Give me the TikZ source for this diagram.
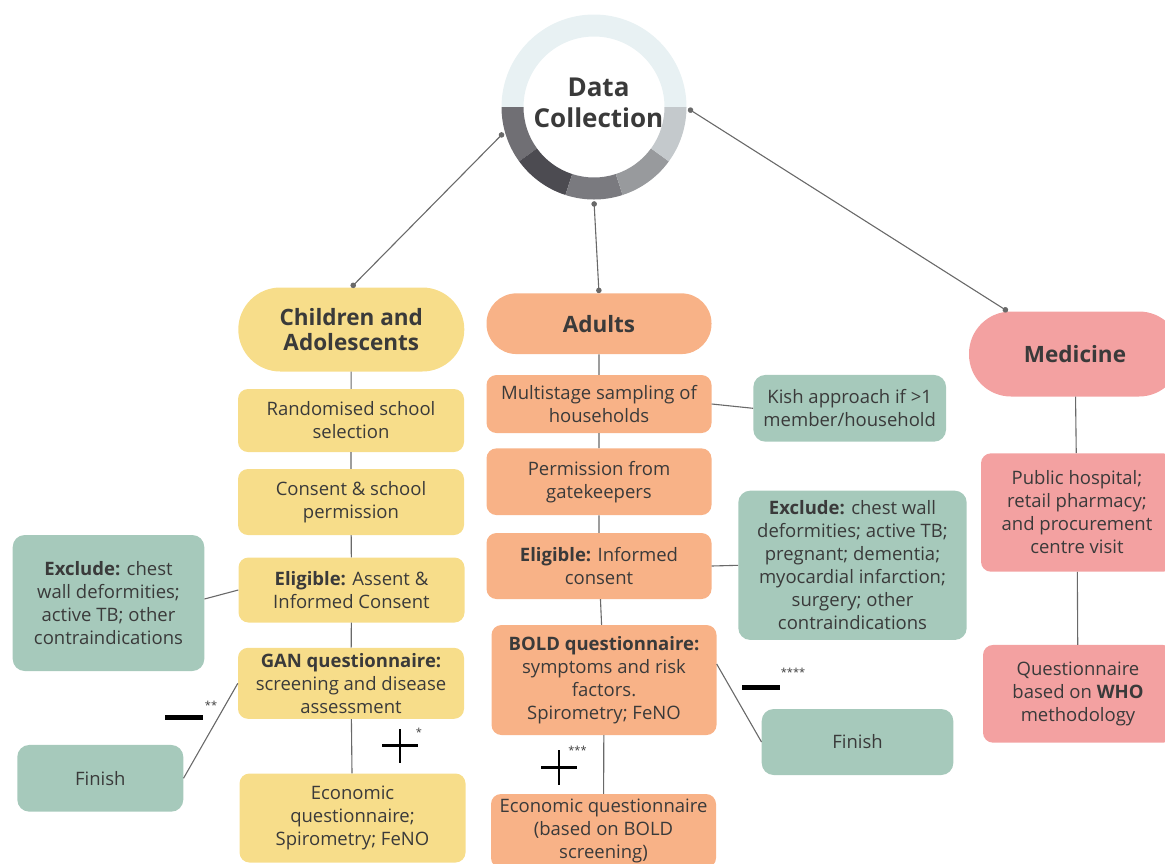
\documentclass[tikz,border=0pt]{standalone}
\usepackage{fontspec}
\setmainfont{Open Sans}
\usetikzlibrary{arrows.meta,calc}

\definecolor{kidyellow}{RGB}{247,221,138}
\definecolor{adultorange}{RGB}{248,178,135}
\definecolor{medpink}{RGB}{243,161,161}
\definecolor{notegreen}{RGB}{166,201,187}
\definecolor{inkgray}{RGB}{58,58,58}
\definecolor{linegray}{RGB}{105,105,105}
\definecolor{ringtop}{RGB}{232,241,243}
\definecolor{ringa}{RGB}{112,111,116}
\definecolor{ringb}{RGB}{76,75,81}
\definecolor{ringc}{RGB}{122,122,127}
\definecolor{ringd}{RGB}{152,154,157}
\definecolor{ringe}{RGB}{196,201,204}

\tikzset{
  plainbox/.style={rounded corners=10pt, align=center, text=inkgray, inner sep=0pt,
    font=\fontsize{18.5}{23}\selectfont},
  kidbox/.style={plainbox, fill=kidyellow, minimum width=226pt},
  adultbox/.style={plainbox, fill=adultorange, minimum width=225pt},
  medbox/.style={plainbox, fill=medpink, minimum width=192pt},
  notebox/.style={plainbox, fill=notegreen, rounded corners=12pt},
  headbox/.style={font=\fontsize{22.5}{25.5}\selectfont\bfseries},
  joinline/.style={draw=linegray, line width=1.1pt},
  dotline/.style={joinline, {Circle[length=5.5pt]}-{Circle[length=5.5pt]}},
  starmark/.style={font=\fontsize{11}{11}\selectfont, text=inkgray, inner sep=0pt},
}

\begin{document}
\begin{tikzpicture}[x=1pt,y=1pt,yscale=-1,xscale=1]
\useasboundingbox (0,0) rectangle (1165,863);

%Shape: ring round the title
\begin{scope}[shift={(594,107)}]
\fill[ringtop] (180:92.5) arc[start angle=180, end angle=360, radius=92.5] -- (0:70.5) arc[start angle=360, end angle=180, radius=70.5] -- cycle;
\fill[ringa] (180:92.5) arc[start angle=180, end angle=144, radius=92.5] -- (144:70.5) arc[start angle=144, end angle=180, radius=70.5] -- cycle;
\fill[ringb] (144:92.5) arc[start angle=144, end angle=108, radius=92.5] -- (108:70.5) arc[start angle=108, end angle=144, radius=70.5] -- cycle;
\fill[ringc] (108:92.5) arc[start angle=108, end angle=72, radius=92.5] -- (72:70.5) arc[start angle=72, end angle=108, radius=70.5] -- cycle;
\fill[ringd] (72:92.5) arc[start angle=72, end angle=36, radius=92.5] -- (36:70.5) arc[start angle=36, end angle=72, radius=70.5] -- cycle;
\fill[ringe] (36:92.5) arc[start angle=36, end angle=0, radius=92.5] -- (0:70.5) arc[start angle=0, end angle=36, radius=70.5] -- cycle;
\end{scope}
\node[circle, minimum size=188pt, inner sep=0pt] (dc) at (594,107) {};
\node[align=center, text=inkgray, inner sep=0pt, font=\fontsize{26}{30.7}\selectfont\bfseries] (dctext) at (598.5,103) {Data\\Collection};

% Children and adolescents
\node[kidbox, headbox, minimum height=84pt, rounded corners=42pt] (kids) at (351.3,329.5) {Children and\\Adolescents};
\node[kidbox, minimum height=63pt] (krand) at (351,420.5) {Randomised school\\selection};
\node[kidbox, minimum height=66pt] (kconsent) at (351,502) {Consent \& school\\permission};
\node[kidbox, minimum height=65pt] (kelig) at (351.5,590) {\textbf{Eligible:} Assent \&\\Informed Consent};
\node[kidbox, minimum height=71pt] (kgan) at (351,683.3) {\textbf{GAN questionnaire:}\\screening and disease\\assessment};
\node[kidbox, minimum height=89pt] (kecon) at (352.5,818) {Economic\\questionnaire;\\Spirometry; FeNO};
\node[notebox, minimum width=191.6pt, minimum height=136pt] (kexcl) at (108.5,603) {\textbf{Exclude:} chest\\wall deformities;\\active TB; other\\contraindications};
\node[notebox, minimum width=166pt, minimum height=66.7pt] (kfinish) at (100.3,778.3) {Finish};

% Adults
\node[adultbox, headbox, minimum height=60.7pt, rounded corners=30pt] (adults) at (599,323.7) {Adults};
\node[adultbox, minimum height=58pt] (amulti) at (599,404) {Multistage sampling of\\households};
\node[adultbox, minimum height=66.7pt] (aperm) at (599,481.7) {Permission from\\gatekeepers};
\node[adultbox, minimum height=66pt] (aelig) at (599,566) {\textbf{Eligible:} Informed\\consent};
\node[adultbox, minimum height=110pt] (abold) at (604,680) {\textbf{BOLD questionnaire:}\\symptoms and risk\\factors.\\Spirometry; FeNO};
\node[adultbox, minimum height=74pt] (aecon) at (603.5,831) {Economic questionnaire\\(based on BOLD\\screening)};
\node[notebox, minimum width=192.7pt, minimum height=66.7pt] (kish) at (849.7,408.3) {Kish approach if >1\\member/household};
\node[notebox, minimum width=228.4pt, minimum height=149.3pt] (aexcl) at (852.5,565.3) {\textbf{Exclude:} chest wall\\deformities; active TB;\\pregnant; dementia;\\myocardial infarction;\\surgery; other\\contraindications};
\node[notebox, minimum width=191.6pt, minimum height=66pt] (afinish) at (857.5,742) {Finish};

% Medicine
\node[medbox, headbox, minimum width=212pt, minimum height=85pt, rounded corners=42pt] (med) at (1075,354) {Medicine};
\node[medbox, minimum height=118.4pt] (mhosp) at (1077,512.5) {Public hospital;\\retail pharmacy;\\and procurement\\centre visit};
\node[medbox, minimum width=190pt, minimum height=97.7pt] (mwho) at (1078,693.8) {Questionnaire\\based on \textbf{WHO}\\methodology};

%Straight Lines from the title
\draw[dotline] (dc.196) -- (kids.north);
\draw[dotline] (dc.south) -- (adults.north);
\draw[dotline] (dc.359) -- (med);

%Straight Lines in the columns
\draw[joinline] (kids) -- (krand) -- (kconsent) -- (kelig) -- (kgan) -- (kecon);
\draw[joinline] (adults) -- (amulti) -- (aperm) -- (aelig) -- (abold) -- (aecon);
\draw[joinline] (med) -- (mhosp) -- (mwho);

%Straight Lines to the side boxes
\draw[joinline] ($(kexcl.east)+(0,-4)$) -- (kelig.west);
\draw[joinline] (kfinish.east) -- (kgan.west);
\draw[joinline] (amulti.east) -- (kish.west);
\draw[joinline] (aelig.east) -- (aexcl.west);
\draw[joinline] ($(abold.east)+(0,-16)$) -- (afinish.west);

% Signs
\draw[line width=5pt] (165,717.5) -- (202.7,717.5);
\node[starmark] (kminus) at (211,705) {**};
\draw[line width=2.6pt] (382.3,745.7) -- (417.7,745.7) (400,729) -- (400,763.3);
\node[starmark] (kplus) at (419,732) {*};
\draw[line width=2.6pt] (541,767.3) -- (577.3,767.3) (559,750) -- (559,785);
\node[starmark] (aplus) at (577.5,750.5) {***};
\draw[line width=4.6pt] (742.3,687.7) -- (780,687.7);
\node[starmark] (aminus) at (793,672) {****};

\end{tikzpicture}
\end{document}
